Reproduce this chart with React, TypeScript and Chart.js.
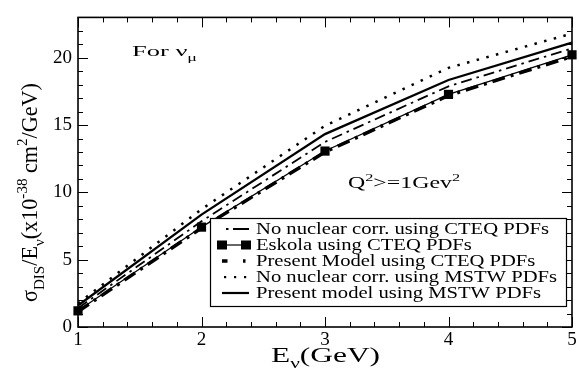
import React, { useEffect, useRef } from 'react';
import { Chart, registerables } from 'chart.js';
Chart.register(...registerables);

const energies = [1, 2, 3, 4, 5];
const noNuclearCTEQ = [1.4, 7.85, 13.75, 17.88, 20.7];
const eskolaCTEQ = [1.2, 7.42, 13.07, 17.28, 20.22];
const presentCTEQ = [1.15, 7.35, 13.0, 17.2, 20.1];
const noNuclearMSTW = [1.75, 8.75, 14.95, 19.25, 21.8];
const presentMSTW = [1.6, 8.35, 14.33, 18.35, 21.13];
const xTicks = [1, 2, 3, 4, 5];
const yTicks = [0, 5, 10, 15, 20];
const seriesLabels = [
  'No nuclear corr. using CTEQ PDFs',
  'Eskola using CTEQ PDFs',
  'Present Model using CTEQ PDFs',
  'No nuclear corr. using MSTW PDFs',
  'Present model using MSTW PDFs',
];

const FAM = '"Liberation Serif", "Times New Roman", serif';

type Part = { t: string; m?: 'sub' | 'sup' };

function partFont(p: Part, size: number) {
  return `${p.m ? size * 0.68 : size}px ${FAM}`;
}
function richWidth(ctx: CanvasRenderingContext2D, parts: Part[], size: number) {
  let w = 0;
  for (const p of parts) {
    ctx.font = partFont(p, size);
    w += ctx.measureText(p.t).width;
  }
  return w;
}
function drawRich(ctx: CanvasRenderingContext2D, parts: Part[], size: number) {
  let x = 0;
  for (const p of parts) {
    ctx.font = partFont(p, size);
    const dy = p.m === 'sub' ? size * 0.3 : p.m === 'sup' ? -size * 0.45 : 0;
    ctx.fillText(p.t, x, dy);
    x += ctx.measureText(p.t).width;
  }
}
function placeRich(
  ctx: CanvasRenderingContext2D,
  parts: Part[],
  size: number,
  x: number,
  y: number,
  targetW: number,
  sy: number,
  rot = 0
) {
  const w = richWidth(ctx, parts, size);
  const sx = targetW / w;
  ctx.save();
  ctx.translate(x, y);
  if (rot) ctx.rotate(rot);
  ctx.scale(sx, sy);
  ctx.fillStyle = '#000';
  ctx.textAlign = 'left';
  ctx.textBaseline = 'alphabetic';
  drawRich(ctx, parts, size);
  ctx.restore();
}

const toPts = (ys: number[]) => energies.map((x, i) => ({ x, y: ys[i] }));

const decorPlugin = {
  id: 'decor',
  afterDraw(chart: any) {
    const ctx: CanvasRenderingContext2D = chart.ctx;
    const { left, right, top, bottom } = chart.chartArea;
    const xs = chart.scales.x;
    const ys = chart.scales.y;
    ctx.save();
    ctx.strokeStyle = '#000';
    ctx.setLineDash([]);
    // minor / major ticks
    ctx.lineWidth = 1;
    ctx.beginPath();
    for (let i = 0; i <= 20; i++) {
      const v = 1 + 0.2 * i;
      const px = Math.round(xs.getPixelForValue(v)) + 0.5;
      const len = i % 5 === 0 ? 10 : 5;
      ctx.moveTo(px, bottom);
      ctx.lineTo(px, bottom - len);
      ctx.moveTo(px, top);
      ctx.lineTo(px, top + len);
    }
    for (let v = 0; v <= 23; v++) {
      const py = Math.round(ys.getPixelForValue(v)) + 0.5;
      const len = v % 5 === 0 ? 10 : 5;
      ctx.moveTo(left, py);
      ctx.lineTo(left + len, py);
      ctx.moveTo(right, py);
      ctx.lineTo(right - len, py);
    }
    ctx.stroke();
    // frame
    ctx.lineWidth = 1.6;
    ctx.strokeRect(left, top, right - left, bottom - top);

    // legend box
    const bx = 210, by = 218, bw = 356, bh = 88;
    ctx.fillStyle = '#fff';
    ctx.fillRect(bx, by, bw, bh);
    ctx.lineWidth = 1.2;
    ctx.strokeRect(bx + 0.5, by + 0.5, bw, bh);

    const baselines = [234, 250, 266, 282, 298];
    ctx.font = `16px ${FAM}`;
    const sx = 293 / ctx.measureText(seriesLabels[0]).width;
    seriesLabels.forEach((lab, i) => {
      const b = baselines[i];
      const cy = b - 5;
      ctx.strokeStyle = '#000';
      ctx.fillStyle = '#000';
      ctx.lineCap = 'butt';
      if (i === 0) {
        ctx.lineWidth = 1.8;
        ctx.setLineDash([]);
        ctx.beginPath();
        ctx.moveTo(226, cy);
        ctx.lineTo(228.5, cy);
        ctx.moveTo(233, cy);
        ctx.lineTo(249, cy);
        ctx.stroke();
      } else if (i === 1) {
        ctx.lineWidth = 1.2;
        ctx.setLineDash([]);
        ctx.beginPath();
        ctx.moveTo(222, cy);
        ctx.lineTo(246, cy);
        ctx.stroke();
        ctx.fillRect(217, cy - 4.5, 10, 9);
        ctx.fillRect(241, cy - 4.5, 10, 9);
      } else if (i === 2) {
        ctx.lineWidth = 3.5;
        ctx.setLineDash([]);
        ctx.beginPath();
        ctx.moveTo(222, cy);
        ctx.lineTo(227.5, cy);
        ctx.moveTo(243, cy);
        ctx.lineTo(245.5, cy);
        ctx.stroke();
      } else if (i === 3) {
        ctx.setLineDash([]);
        [225, 235, 245].forEach((x) => ctx.fillRect(x - 1, cy - 1, 2.2, 2.2));
      } else {
        ctx.lineWidth = 2.2;
        ctx.setLineDash([]);
        ctx.beginPath();
        ctx.moveTo(222, cy);
        ctx.lineTo(249, cy);
        ctx.stroke();
      }
      ctx.save();
      ctx.translate(256, b);
      ctx.scale(sx, 1);
      ctx.font = `16px ${FAM}`;
      ctx.fillStyle = '#000';
      ctx.textAlign = 'left';
      ctx.textBaseline = 'alphabetic';
      ctx.fillText(lab, 0, 0);
      ctx.restore();
    });

    // annotations
    placeRich(ctx, [{ t: 'For ν' }, { t: 'μ', m: 'sub' }], 15.5, 132, 56, 65, 1);
    placeRich(
      ctx,
      [{ t: 'Q' }, { t: '2', m: 'sup' }, { t: '>=1Gev' }, { t: '2', m: 'sup' }],
      16.5,
      348,
      188,
      112,
      1
    );
    // axis titles
    placeRich(ctx, [{ t: 'E' }, { t: 'ν', m: 'sub' }, { t: '(GeV)' }], 21, 271, 362, 109, 1);
    placeRich(
      ctx,
      [
        { t: 'σ' },
        { t: 'DIS', m: 'sub' },
        { t: '/E' },
        { t: 'ν', m: 'sub' },
        { t: '(x10' },
        { t: '-38', m: 'sup' },
        { t: ' cm' },
        { t: '2', m: 'sup' },
        { t: '/GeV)' },
      ],
      17,
      37,
      302,
      219,
      1.35,
      -Math.PI / 2
    );
    ctx.restore();
  },
};

export default function App() {
  const ref = useRef<HTMLCanvasElement>(null);
  useEffect(() => {
    document.body.style.margin = '0';
    const canvas = ref.current!;
    const chart = new Chart(canvas, {
      type: 'line',
      data: {
        datasets: [
          {
            label: seriesLabels[0],
            data: toPts(noNuclearCTEQ),
            borderColor: '#000',
            borderWidth: 1.8,
            borderDash: [11, 5, 2.5, 5],
            pointRadius: 0,
            tension: 0,
            clip: false,
          },
          {
            label: seriesLabels[1],
            data: toPts(eskolaCTEQ),
            borderColor: '#000',
            borderWidth: 1.2,
            pointStyle: 'rect',
            pointRadius: 6.5,
            pointBackgroundColor: '#000',
            pointBorderColor: '#000',
            pointBorderWidth: 0,
            tension: 0,
            clip: false,
          },
          {
            label: seriesLabels[2],
            data: toPts(presentCTEQ),
            borderColor: '#000',
            borderWidth: 3.5,
            borderDash: [13, 6, 3, 6],
            pointRadius: 0,
            tension: 0,
            clip: false,
          },
          {
            label: seriesLabels[3],
            data: toPts(noNuclearMSTW),
            borderColor: '#000',
            borderWidth: 2.5,
            borderDash: [2.5, 7.5],
            pointRadius: 0,
            tension: 0,
            clip: false,
          },
          {
            label: seriesLabels[4],
            data: toPts(presentMSTW),
            borderColor: '#000',
            borderWidth: 2.3,
            pointRadius: 0,
            tension: 0,
            clip: false,
          },
        ],
      } as any,
      options: {
        animation: false,
        responsive: false,
        maintainAspectRatio: false,
        devicePixelRatio: 1,
        layout: { padding: { top: 3, right: 7, left: 0, bottom: 0 } },
        plugins: { legend: { display: false }, tooltip: { enabled: false } },
        events: [],
        scales: {
          x: {
            type: 'linear',
            min: 1,
            max: 5,
            grid: { display: false, drawTicks: false },
            border: { display: false },
            ticks: {
              color: '#000',
              padding: 2,
              font: { family: FAM, size: 19 },
            },
            afterBuildTicks: (s: any) => {
              s.ticks = xTicks.map((v) => ({ value: v }));
            },
            afterFit: (s: any) => {
              s.height = 45;
            },
          },
          y: {
            type: 'linear',
            min: 0,
            max: 23,
            grid: { display: false, drawTicks: false },
            border: { display: false },
            ticks: {
              color: '#000',
              padding: 6,
              font: { family: FAM, size: 19 },
            },
            afterBuildTicks: (s: any) => {
              s.ticks = yTicks.map((v) => ({ value: v }));
            },
            afterFit: (s: any) => {
              s.width = 78;
            },
          },
        },
      } as any,
      plugins: [decorPlugin],
    });
    return () => chart.destroy();
  }, []);
  return (
    <div style={{ width: 579, height: 372 }}>
      <canvas ref={ref} width={579} height={372} style={{ display: 'block' }} />
    </div>
  );
}
